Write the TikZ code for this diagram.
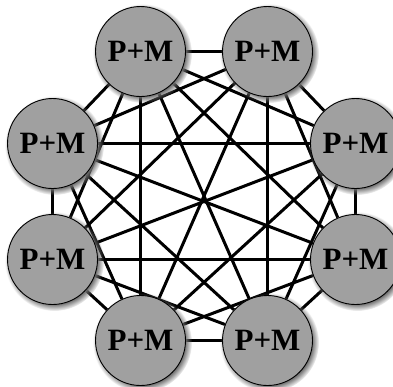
\documentclass[tikz,border=0pt]{standalone}
\usepackage{fontspec}
\setmainfont{Liberation Serif}
\usetikzlibrary{shadows,backgrounds}
\definecolor{nodegray}{RGB}{160,160,160}
\definecolor{shadowgray}{RGB}{110,110,110}
\begin{document}
\begin{tikzpicture}[x=1pt,y=-1pt,
  pm/.style={circle,draw=black,line width=0.9pt,fill=nodegray,
    minimum size=90pt,inner sep=0pt,
    font=\fontsize{31}{31}\selectfont\bfseries,
    circular drop shadow={shadow xshift=1.8pt,shadow yshift=-1.8pt,fill=shadowgray,opacity=1}},
  link/.style={line width=3pt,black}]
\useasboundingbox (0,0) rectangle (393,386);
\node[pm] (n1) at (140.5,51.5)  {P+M};
\node[pm] (n2) at (267.5,51.5)  {P+M};
\node[pm] (n3) at (355.5,143.5) {P+M};
\node[pm] (n4) at (355.5,259.5) {P+M};
\node[pm] (n5) at (267.5,340.5) {P+M};
\node[pm] (n6) at (140.5,340.5) {P+M};
\node[pm] (n7) at (52.5,259.5)  {P+M};
\node[pm] (n8) at (52.5,143.5)  {P+M};
\begin{pgfonlayer}{background}
\foreach \a/\b in {n1/n2,n1/n3,n1/n4,n1/n5,n1/n6,n1/n7,n1/n8,
                   n2/n3,n2/n4,n2/n5,n2/n6,n2/n7,n2/n8,
                   n3/n4,n3/n5,n3/n6,n3/n7,n3/n8,
                   n4/n5,n4/n6,n4/n7,n4/n8,
                   n5/n6,n5/n7,n5/n8,
                   n6/n7,n6/n8,
                   n7/n8}
  \draw[link] (\a) -- (\b);
\end{pgfonlayer}
\end{tikzpicture}
\end{document}
